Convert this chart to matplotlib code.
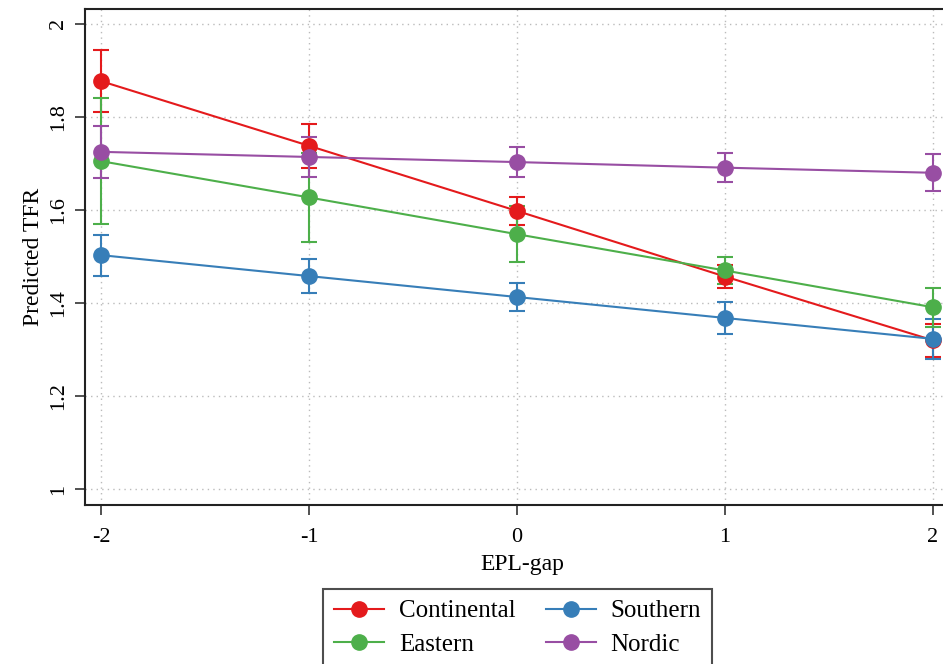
import matplotlib.pyplot as plt
import numpy as np

plt.rcParams['font.family'] = ['Liberation Serif', 'DejaVu Serif']

# EPL-gap values on the x axis
epl_gap = [-2, -1, 0, 1, 2]

# predicted TFR and half-width of the confidence interval, per regime
continental = [1.877, 1.738, 1.598, 1.457, 1.320]
continental_err = [0.067, 0.047, 0.030, 0.025, 0.035]

eastern = [1.705, 1.627, 1.548, 1.470, 1.391]
eastern_err = [0.135, 0.095, 0.060, 0.030, 0.042]

southern = [1.503, 1.458, 1.413, 1.368, 1.323]
southern_err = [0.044, 0.036, 0.031, 0.034, 0.043]

nordic = [1.725, 1.714, 1.703, 1.691, 1.680]
nordic_err = [0.056, 0.043, 0.032, 0.031, 0.040]

series = [
    ('Continental', continental, continental_err, '#E41A1C'),
    ('Southern', southern, southern_err, '#377EB8'),
    ('Eastern', eastern, eastern_err, '#4DAF4A'),
    ('Nordic', nordic, nordic_err, '#984EA3'),
]

fig = plt.figure(figsize=(9.43, 6.64), dpi=100)
# the plot region runs past the right edge of the picture, as in the original
ax = fig.add_axes([85 / 943, 159 / 664, 875 / 943, 496 / 664])

handles = {}
for name, vals, err, col in series:
    ax.errorbar(epl_gap, vals, yerr=err, fmt='none', ecolor=col,
                elinewidth=1.5, capsize=6, capthick=1.5, zorder=2)
    line, = ax.plot(epl_gap, vals, color=col, lw=1.5, marker='o',
                    markersize=11, zorder=3)
    handles[name] = line

ax.set_xlim(-2.077, 2.13)
ax.set_ylim(0.966, 2.032)
ax.set_xticks(epl_gap)
ax.set_xticklabels(['-2', '-1', '0', '1', '2'])
ax.set_yticks([1, 1.2, 1.4, 1.6, 1.8, 2])
ax.set_yticklabels(['1', '1.2', '1.4', '1.6', '1.8', '2'], rotation=90, va='center')
ax.tick_params(labelsize=16, length=7.5, width=1.2, color='#333333', direction='out')
ax.tick_params(axis='x', pad=9)
ax.tick_params(axis='y', pad=5)
ax.grid(True, linestyle=(0, (1, 3)), color='#bbbbbb', linewidth=1)
for s in ax.spines.values():
    s.set_linewidth(1.5)
    s.set_color('#222222')
ax.spines['right'].set_visible(False)

ax.set_xlabel('EPL-gap', fontsize=17, labelpad=5)
ax.set_ylabel('Predicted TFR', fontsize=17, labelpad=3)

order = ['Continental', 'Eastern', 'Southern', 'Nordic']
leg = fig.legend([handles[n] for n in order], order, ncol=2, fontsize=18,
                 loc='upper center', bbox_to_anchor=(517.5 / 943, 1 - 576 / 664),
                 frameon=True, fancybox=False, edgecolor='#222222',
                 handlelength=2.0, handletextpad=0.6, columnspacing=1.2,
                 borderpad=0.45, labelspacing=0.45)
leg.get_frame().set_linewidth(1.5)

fig.savefig('out.png', dpi=100)
